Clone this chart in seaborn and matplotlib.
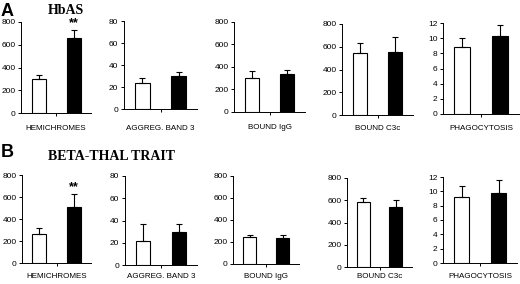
import matplotlib
matplotlib.use("Agg")
import matplotlib.pyplot as plt
import seaborn as sns
import pandas as pd
import numpy as np

sns.set_theme(style="ticks")
plt.rcParams['font.family'] = ['Liberation Sans', 'DejaVu Sans']
plt.rcParams['text.color'] = 'black'
plt.rcParams['xtick.color'] = 'black'
plt.rcParams['ytick.color'] = 'black'
plt.rcParams['axes.labelcolor'] = 'black'

# ---- data ----
metrics = ["HEMICHROMES", "AGGREG. BAND 3", "BOUND IgG", "BOUND C3c", "PHAGOCYTOSIS"]
groups = ["Control", "Carrier"]
y_max = [800, 80, 800, 800, 12]
y_step = [200, 20, 200, 200, 2]

hbas_ctrl = [300, 24, 300, 542, 8.9]
hbas_ctrl_err = [35, 4.5, 65, 94, 1.15]
hbas_case = [655, 30, 335, 557, 10.25]
hbas_case_err = [78, 3.3, 38, 126, 1.5]

thal_ctrl = [263, 22, 247, 584, 9.2]
thal_ctrl_err = [53, 15, 18, 39, 1.5]
thal_case = [510, 30, 238, 542, 9.8]
thal_case_err = [120, 6.5, 27, 57, 1.8]

row_titles = ["HbAS", "BETA-THAL TRAIT"]
row_letters = ["A", "B"]
signif = [["**", "", "", "", ""], ["**", "", "", "", ""]]

rows = [
    (hbas_ctrl, hbas_ctrl_err, hbas_case, hbas_case_err),
    (thal_ctrl, thal_ctrl_err, thal_case, thal_case_err),
]

# axes boxes in pixels: (x_left, y_top, x_right, y_bottom)
W, H = 520, 284
boxes = [
    [(21, 22, 91, 113), (124, 21, 197, 109), (234, 22, 305, 112), (342, 24, 413, 115), (443, 23, 519, 114)],
    [(22, 175, 91, 263), (125, 176, 197, 265), (233, 176, 299, 264), (347, 178, 412, 267), (443, 177, 517, 263)],
]
label_y = [128, 276]  # centre of category labels (pixels from top)

fig = plt.figure(figsize=(W / 100, H / 100), dpi=100)
fig.patch.set_facecolor("white")

for r, (c, ce, k, ke) in enumerate(rows):
    for i, m in enumerate(metrics):
        x0, y0, x1, y1 = boxes[r][i]
        ax = fig.add_axes([x0 / W, 1 - y1 / H, (x1 - x0) / W, (y1 - y0) / H])
        df = pd.DataFrame({"group": groups, "value": [c[i], k[i]]})
        sns.barplot(data=df, x="group", y="value", hue="group",
                    palette=["white", "black"], edgecolor="black",
                    linewidth=0.8, width=0.4, ax=ax, legend=False, errorbar=None)
        xs = [p.get_x() + p.get_width() / 2 for p in ax.patches]
        ax.errorbar(xs, [c[i], k[i]], yerr=[[0, 0], [ce[i], ke[i]]],
                    fmt="none", ecolor="black", elinewidth=0.8, capsize=2.5,
                    capthick=0.8)
        if signif[r][i]:
            ax.text(xs[1], k[i] + ke[i] + y_max[i] * 0.01, signif[r][i],
                    ha="center", va="bottom", fontsize=9, fontweight="bold")
        ax.set_xlim(-0.5, 1.5)
        ax.set_ylim(0, y_max[i])
        ax.set_yticks(np.arange(0, y_max[i] + 0.001, y_step[i]))
        ax.set_xticks([0.5])
        ax.set_xticklabels([""])
        ax.set_xlabel(m, fontsize=5.8, va="center")
        ax.xaxis.set_label_coords(0.5, -(label_y[r] - y1) / (y1 - y0))
        ax.set_ylabel("")
        ax.tick_params(axis="y", labelsize=6, length=2.5, width=0.7, pad=1.5, direction="out")
        ax.tick_params(axis="x", length=2.5, width=0.7, direction="out")
        for s in ["top", "right"]:
            ax.spines[s].set_visible(False)
        for s in ["left", "bottom"]:
            ax.spines[s].set_linewidth(0.7)
            ax.spines[s].set_color("black")
        ax.set_facecolor("white")
        ax.patch.set_alpha(0)

# row letters and titles
fig.text(1 / W, 1 - 12 / H, row_letters[0], fontsize=13, fontweight="bold", va="center", ha="left")
fig.text(66 / W, 1 - 10 / H, row_titles[0], fontsize=10, fontweight="bold",
         family=["Liberation Serif", "DejaVu Serif"], va="center", ha="center")
fig.text(1 / W, 1 - 153 / H, row_letters[1], fontsize=13, fontweight="bold", va="center", ha="left")
fig.text(48 / W, 1 - 157 / H, row_titles[1], fontsize=10, fontweight="bold",
         family=["Liberation Serif", "DejaVu Serif"], va="center", ha="left")

fig.savefig("out.png", dpi=100, facecolor="white")
